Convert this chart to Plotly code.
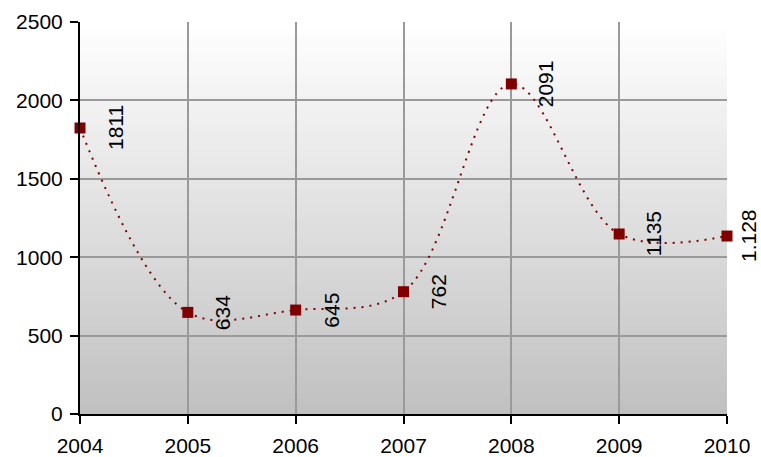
import plotly.graph_objects as go

years = [2004, 2005, 2006, 2007, 2008, 2009, 2010]
values = [1824, 648, 663, 780, 2105, 1148, 1135]
labels = ["1811", "634", "645", "762", "2091", "1135", "1.128"]
y_ticks = [0, 500, 1000, 1500, 2000, 2500]

FONT = "Liberation Sans, Arial, sans-serif"

fig = go.Figure()
fig.add_trace(go.Scatter(
    x=years, y=values, mode="lines+markers",
    line=dict(color="#800000", width=2, dash="2px,6px", shape="spline", smoothing=1.0),
    marker=dict(symbol="square", size=11, color="#800000"),
    hoverinfo="skip", cliponaxis=False,
))

# gradient background (white top -> gray bottom)
n = 80
shapes = []
for i in range(n):
    t = (i + 0.5) / n  # 0 bottom -> 1 top
    c = int(round(192 + (255 - 192) * t))
    shapes.append(dict(type="rect", xref="paper", yref="paper",
                       x0=0, x1=1, y0=i / n, y1=(i + 1) / n + 0.002,
                       fillcolor=f"rgb({c},{c},{c})", line=dict(width=0),
                       layer="below"))

annotations = []
for i, (x, y, t) in enumerate(zip(years, values, labels)):
    annotations.append(dict(x=x, y=y, text=t, showarrow=False, textangle=-90,
                            xshift=21 if i == len(years) - 1 else 35,
                            font=dict(family=FONT, size=21, color="black")))

fig.update_layout(
    width=761, height=457,
    margin=dict(l=80, r=34, t=22, b=43),
    paper_bgcolor="white", plot_bgcolor="white",
    showlegend=False, shapes=shapes, annotations=annotations,
    font=dict(family=FONT, size=21, color="black"),
)
fig.update_xaxes(range=[2004, 2010], tickmode="array", tickvals=years,
                 ticktext=[str(y) for y in years], automargin=False,
                 ticklabelstandoff=4,
                 showgrid=True, gridcolor="#9a9a9a", gridwidth=2,
                 showline=True, linecolor="black", linewidth=2,
                 ticks="outside", ticklen=8, tickwidth=2, tickcolor="black",
                 zeroline=False, fixedrange=True)
fig.update_yaxes(range=[0, 2500], tickmode="array", tickvals=y_ticks,
                 automargin=False, ticklabelstandoff=3,
                 showgrid=True, gridcolor="#9a9a9a", gridwidth=2,
                 showline=True, linecolor="black", linewidth=2,
                 ticks="outside", ticklen=8, tickwidth=2, tickcolor="black",
                 zeroline=False, fixedrange=True)

fig.write_html("out.html", config={"displayModeBar": False},
               post_script="document.body.style.margin='0';")
